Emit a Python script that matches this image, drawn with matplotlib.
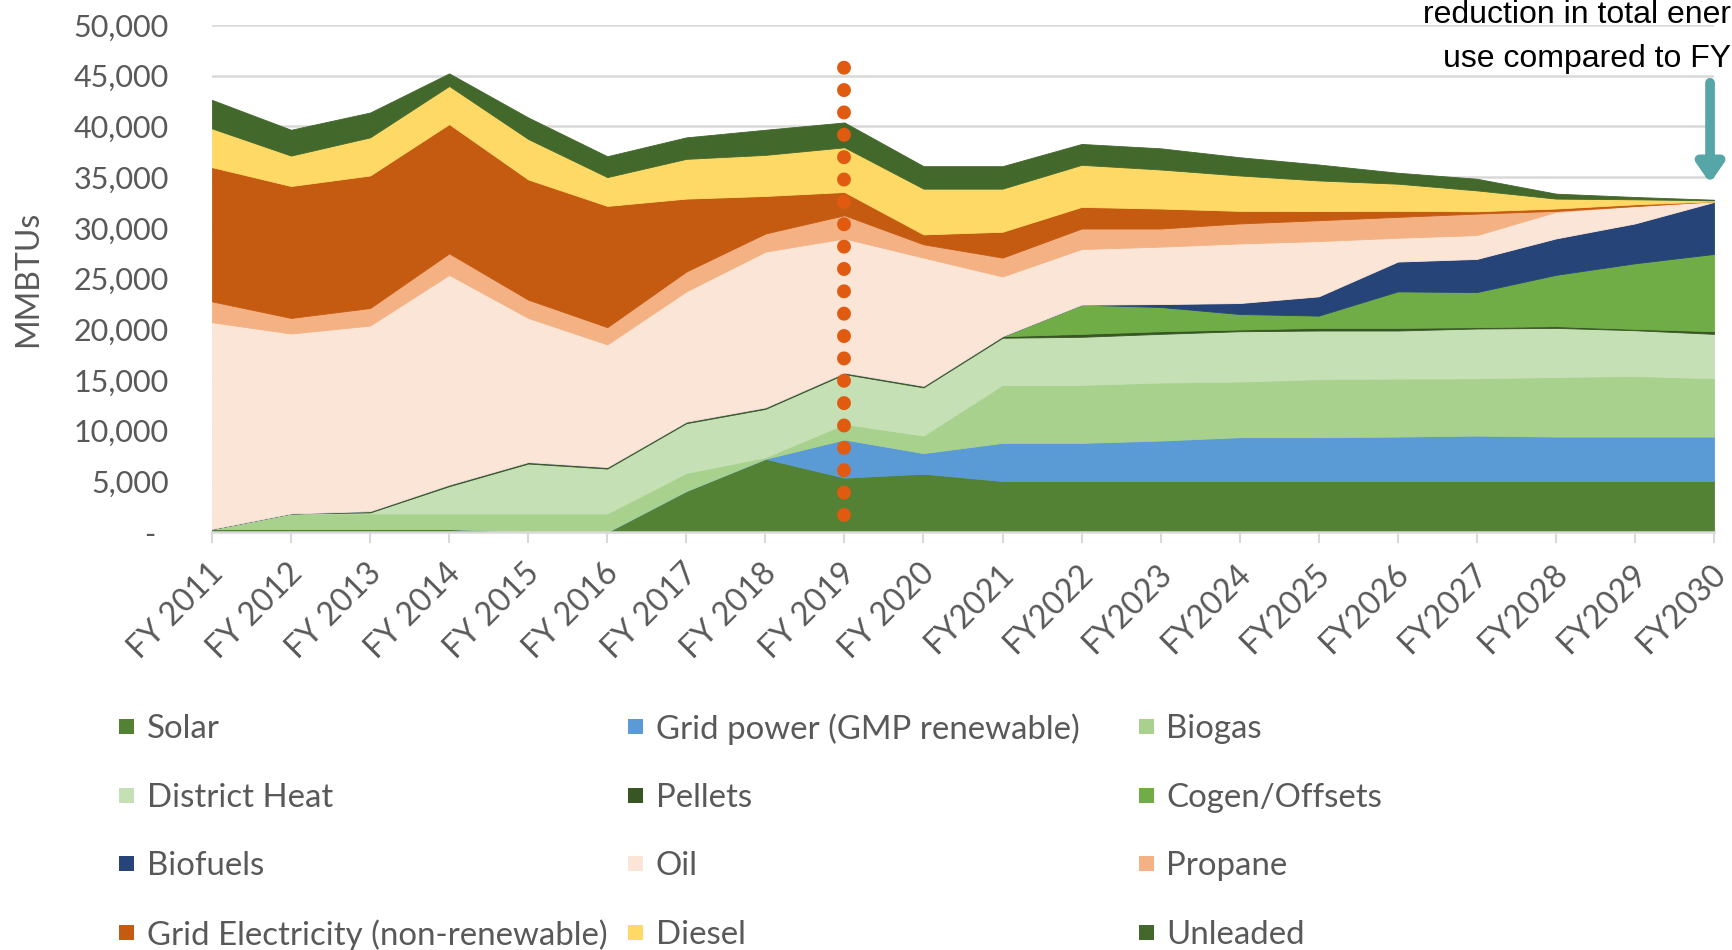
import matplotlib
matplotlib.use("Agg")
import matplotlib.pyplot as plt
from matplotlib.transforms import ScaledTranslation
from matplotlib.patches import Rectangle

# ---------------- data ----------------
years = ["FY 2011", "FY 2012", "FY 2013", "FY 2014", "FY 2015", "FY 2016",
         "FY 2017", "FY 2018", "FY 2019", "FY 2020", "FY2021", "FY2022",
         "FY2023", "FY2024", "FY2025", "FY2026", "FY2027", "FY2028",
         "FY2029", "FY2030"]

solar    = [300, 300, 300, 300, 0, 0, 4050, 7220, 5360, 5750, 5030, 5030, 5030, 5030, 5030, 5030, 5030, 5030, 5030, 5030]
gmp      = [0, 0, 0, 0, 0, 0, 0, 0, 3760, 2030, 3760, 3760, 3990, 4320, 4320, 4380, 4480, 4380, 4380, 4380]
biogas   = [0, 1530, 1530, 1530, 1830, 1830, 1770, 150, 1530, 1730, 5720, 5720, 5720, 5490, 5720, 5720, 5650, 5880, 5980, 5750]
district = [0, 0, 100, 2690, 4920, 4425, 4910, 4770, 4920, 4750, 4650, 4740, 4800, 4960, 4800, 4740, 4910, 4840, 4510, 4380]
pellets  = [0, 0, 130, 150, 150, 150, 150, 150, 150, 150, 150, 290, 260, 170, 260, 260, 130, 170, 130, 260]
cogen    = [0, 0, 0, 0, 0, 0, 0, 0, 0, 0, 0, 2880, 2390, 1530, 1210, 3600, 3460, 5060, 6470, 7620]
biofuels = [0, 0, 0, 0, 0, 0, 0, 0, 0, 0, 0, 0, 290, 1080, 1900, 2940, 3270, 3590, 3930, 5130]
oil      = [20390, 17745, 18300, 20690, 14210, 12095, 12850, 15360, 13230, 12650, 5890, 5490, 5660, 5880, 5450, 2350, 2350, 2620, 1720, 60]
propane  = [2055, 1535, 1730, 2120, 1800, 1700, 1960, 1790, 2290, 1310, 1860, 2020, 1790, 1970, 2060, 2060, 2120, 100, 0, 0]
grid_el  = [13235, 13010, 13070, 12750, 11860, 11960, 7190, 3700, 2290, 980, 2550, 2130, 1970, 1240, 900, 590, 230, 230, 170, 0]
diesel   = [3820, 3000, 3760, 3760, 3990, 2840, 3920, 4050, 4410, 4510, 4250, 4150, 3850, 3490, 3020, 2680, 2060, 980, 490, 100]
unleaded = [2815, 2550, 2450, 1240, 2120, 2060, 2120, 2480, 2450, 2220, 2220, 2060, 2090, 1800, 1570, 1080, 1150, 490, 230, 60]

series_names = ["Solar", "Grid power (GMP renewable)", "Biogas",
                "District Heat", "Pellets", "Cogen/Offsets",
                "Biofuels", "Oil", "Propane",
                "Grid Electricity (non-renewable)", "Diesel", "Unleaded"]
series_values = [solar, gmp, biogas, district, pellets, cogen,
                 biofuels, oil, propane, grid_el, diesel, unleaded]
series_colors = ["#548235", "#5B9BD5", "#A9D18E", "#C5E0B4", "#375623", "#70AD47",
                 "#264478", "#FBE5D6", "#F4B183", "#C55A11", "#FFD966", "#43682B"]

y_ticks = list(range(0, 50001, 5000))
baseline_year = "FY 2019"
marker_range = [1700, 46100]

# ---------------- figure ----------------
W, H = 1733, 950
fig = plt.figure(figsize=(W / 100, H / 100), dpi=100)
L, R, B, T = 212, 1714, 532, 25
ax = fig.add_axes([L / W, 1 - B / H, (R - L) / W, (B - T) / H])

x = list(range(len(years)))
ax.stackplot(x, *series_values, colors=series_colors, linewidth=0.6,
             edgecolor="face", zorder=2)

ax.set_xlim(0, len(years) - 1)
ax.set_ylim(0, 50000)

TXT = "#595959"
FONT = "Lato"

ax.set_yticks(y_ticks)
ax.set_yticklabels(["-" if v == 0 else f"{v:,}" for v in y_ticks],
                   fontsize=22, color=TXT, family=FONT)
ax.tick_params(axis="y", length=0, pad=31)
ax.yaxis.grid(True, color="#D9D9D9", lw=1.8, zorder=0)
ax.set_axisbelow(True)
for lbl in ax.get_yticklabels():
    if lbl.get_text() == "-":
        lbl.set_transform(lbl.get_transform() + ScaledTranslation(-0.14, 0, fig.dpi_scale_trans))

ax.set_xticks(x)
ax.set_xticklabels(years, rotation=45, ha="right", va="top",
                   rotation_mode="anchor", fontsize=23, color=TXT, family=FONT)
ax.tick_params(axis="x", length=8, width=1.5, color="#D9D9D9", pad=11)
for lbl in ax.get_xticklabels():
    lbl.set_transform(lbl.get_transform() + ScaledTranslation(-0.04, 0, fig.dpi_scale_trans))

for s in ["top", "right", "left"]:
    ax.spines[s].set_visible(False)
ax.spines["bottom"].set_color("#D9D9D9")
ax.spines["bottom"].set_linewidth(1.8)
ax.spines["bottom"].set_zorder(3)

# baseline marker line (dotted)
bx = years.index(baseline_year)
ax.plot([bx, bx], marker_range, color="#E05A10", lw=10,
        linestyle=(0, (0.01, 1.6)), dash_capstyle="round", zorder=5)

# arrow at the end
ax.annotate("", xy=(18.95, 34400), xytext=(18.95, 44300),
            arrowprops=dict(arrowstyle="-|>,head_length=0.55,head_width=0.38",
                            mutation_scale=20, lw=7, color="#56A5A7",
                            shrinkA=0, shrinkB=0, joinstyle="round",
                            capstyle="round"),
            zorder=6, annotation_clip=False)

# annotation text (partially visible)
fig.text(1731 / W, 1 - 23 / H, "reduction in total ener", ha="right",
         va="baseline", fontsize=23, family="Liberation Sans", color="black")
fig.text(1731 / W, 1 - 67 / H, "use compared to FY", ha="right",
         va="baseline", fontsize=23, family="Liberation Sans", color="black")

# y label
fig.text(28 / W, 1 - 279 / H, "MMBTUs", rotation=90, ha="center", va="center",
         fontsize=23, color=TXT, family=FONT)

# legend (3 columns, row-major)
col_x = [127, 636, 1146]
row_y = [726, 795, 863, 932]
sq = 15
for i, (name, col) in enumerate(zip(series_names, series_colors)):
    r, c = divmod(i, 3)
    cx, cy = col_x[c], row_y[r]
    fig.patches.append(Rectangle(((cx - sq / 2) / W, 1 - (cy + sq / 2) / H),
                                 sq / W, sq / H, transform=fig.transFigure,
                                 facecolor=col, edgecolor="none"))
    fig.text((cx + 20) / W, 1 - cy / H, name, ha="left", va="center_baseline",
             fontsize=23.8, color=TXT, family=FONT)

fig.savefig("out.png", dpi=100)
